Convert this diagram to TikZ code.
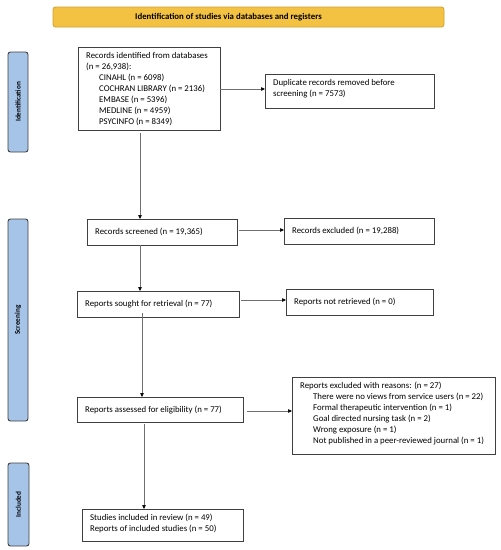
\documentclass[tikz,border=0pt]{standalone}
\usepackage{fontspec}
\setmainfont{Carlito}
\usetikzlibrary{arrows.meta,positioning}
\definecolor{bannerfill}{HTML}{F4C242}
\definecolor{bannerline}{HTML}{D0A030}
\definecolor{sidefill}{HTML}{A6C4E8}
\definecolor{sideline}{HTML}{3F3F3F}
\definecolor{boxline}{HTML}{404040}
\definecolor{arrline}{HTML}{707070}
\tikzset{
  x=1pt,y=-1pt,
  box/.style={draw=boxline,line width=0.9pt,fill=white},
  txt/.style={inner sep=0pt,align=left,font=\fontsize{8.8}{11}\selectfont},
  sidebar/.style={draw=sideline,line width=0.9pt,fill=sidefill,rounded corners=2.5pt},
  sidelabel/.style={rotate=90,font=\fontsize{7.2}{8}\selectfont\bfseries},
  conn/.style={draw=arrline,line width=0.6pt,-{Triangle[length=4pt,width=3.5pt,fill=black,color=black]}}
}
\begin{document}
\begin{tikzpicture}
\useasboundingbox (0,0) rectangle (501,550);
% banner
\draw[draw=bannerline,line width=0.8pt,fill=bannerfill,rounded corners=2.5pt] (53,7) rectangle (444,27);
\node[font=\fontsize{8.8}{10}\selectfont\bfseries] (banner) at (228.5,17) {Identification of studies via databases and registers};
% side bars
\draw[sidebar] (8,52) rectangle (28,152);
\node[sidelabel] (lid) at (18,102) {Identification};
\draw[sidebar] (8,219) rectangle (28,421);
\node[sidelabel] (lsc) at (18,320) {Screening};
\draw[sidebar] (8,463) rectangle (29,546);
\node[sidelabel] (lin) at (18.5,504.5) {Included};
% boxes
\draw[box] (78,47) rectangle (220,130);
\node[txt,anchor=north west] (b1t) at (86,52) {Records identified from databases\\(n = 26,938):\\\hspace{13pt}CINAHL (n = 6098)\\\hspace{13pt}COCHRAN LIBRARY (n = 2136)\\\hspace{13pt}EMBASE (n = 5396)\\\hspace{13pt}MEDLINE (n = 4959)\\\hspace{13pt}PSYCINFO (n = 8349)};
\coordinate (b1r) at (220,89);
\coordinate (b1b) at (140,133);

\draw[box] (265,74) rectangle (434,108);
\node[txt,anchor=north west] (dupt) at (273,79) {Duplicate records removed before\\screening (n = 7573)};
\coordinate (dupl) at (265,89);

\draw[box] (87,219) rectangle (237,245);
\node[txt,anchor=west] (scrt) at (95,232) {Records screened (n = 19,365)};
\coordinate (scrtop) at (140,219);
\coordinate (scrbot) at (140,245);
\coordinate (scrr) at (239,230);

\draw[box] (284,218) rectangle (434,244);
\node[txt,anchor=west] (exct) at (292,231) {Records excluded (n = 19,288)};
\coordinate (excl) at (284,230);

\draw[box] (77,291) rectangle (239,317);
\node[txt,anchor=west] (sougt) at (85,304) {Reports sought for retrieval (n = 77)};
\coordinate (sougtop) at (140,291);
\coordinate (sougbot) at (142,313);
\coordinate (sougr) at (241,300);

\draw[box] (286,289) rectangle (433,315);
\node[txt,anchor=west] (nrt) at (294,302) {Reports not retrieved (n = 0)};
\coordinate (nrl) at (286,300);

\draw[box] (77,397) rectangle (243,422);
\node[txt,anchor=west] (asst) at (85,410) {Reports assessed for eligibility (n = 77)};
\coordinate (asstop) at (142,397);
\coordinate (assbot) at (144,424);
\coordinate (assr) at (247,411);

\draw[box] (292,377) rectangle (495,454);
\node[txt,anchor=north west] (rext) at (300,382) {Reports excluded with reasons: (n = 27)\\\hspace{13pt}There were no views from service users (n = 22)\\\hspace{13pt}Formal therapeutic intervention (n = 1)\\\hspace{13pt}Goal directed nursing task (n = 2)\\\hspace{13pt}Wrong exposure (n = 1)\\\hspace{13pt}Not published in a peer-reviewed journal (n = 1)};
\coordinate (rexl) at (292,411);

\draw[box] (82,509) rectangle (243,541);
\node[txt,anchor=north west] (inct) at (90,514) {Studies included in review (n = 49)\\Reports of included studies (n = 50)};
\coordinate (inctop) at (144,509);

% connectors
\draw[conn] (b1r) -- (dupl);
\draw[conn] (b1b) -- (scrtop);
\draw[conn] (scrbot) -- (sougtop);
\draw[conn] (scrr) -- (excl);
\draw[conn] (sougr) -- (nrl);
\draw[conn] (sougbot) -- (asstop);
\draw[conn] (assr) -- (rexl);
\draw[conn] (assbot) -- (inctop);
\end{tikzpicture}
\end{document}
